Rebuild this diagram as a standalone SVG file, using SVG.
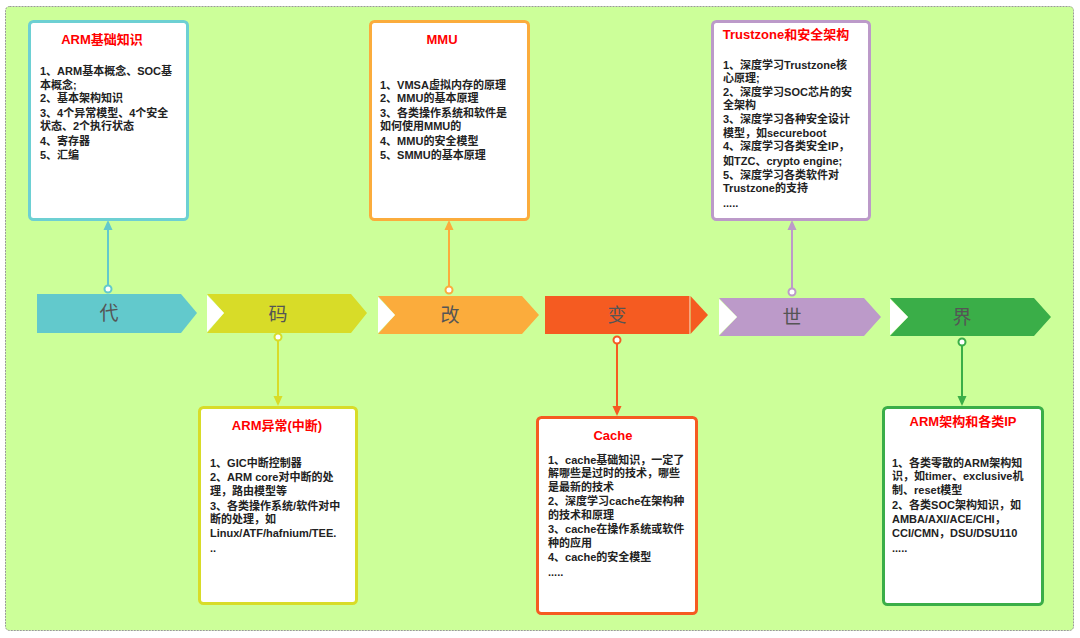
<svg xmlns="http://www.w3.org/2000/svg" width="1080" height="638" viewBox="0 0 1080 638">
<style>
.box{fill:#fff;stroke-width:3}
.title{font-family:"Liberation Sans","Noto Sans CJK SC",sans-serif;font-size:13px;font-weight:bold;fill:#ff0000;text-anchor:middle}
.body{font-family:"Liberation Sans","Noto Sans CJK SC",sans-serif;font-size:11px;font-weight:bold;fill:#222}
.chev{font-family:"Noto Sans CJK SC",sans-serif;font-size:19px;fill:#555;text-anchor:middle}
.ln{stroke-width:2;fill:none}
.dot{fill:#fff;stroke-width:2}
</style>
<rect x="5.5" y="6.5" width="1068" height="624" rx="4" fill="#ccff99" stroke="#999" stroke-width="1" stroke-dasharray="2,1"/>

<g id="connectors">
  <line class="ln" x1="108" y1="286" x2="108" y2="228" stroke="#62c9cc"/>
  <polygon points="108,220 103.5,230 112.5,230" fill="#62c9cc"/>
  <circle class="dot" cx="108" cy="289" r="3.5" stroke="#62c9cc"/>

  <line class="ln" x1="278" y1="341" x2="278" y2="398" stroke="#d8dc28"/>
  <polygon points="278,406 273.5,396 282.5,396" fill="#d8dc28"/>
  <circle class="dot" cx="278" cy="337" r="3.5" stroke="#d8dc28"/>

  <line class="ln" x1="449" y1="287" x2="449" y2="228" stroke="#fbac3c"/>
  <polygon points="449,220 444.5,230 453.5,230" fill="#fbac3c"/>
  <circle class="dot" cx="449" cy="290" r="3.5" stroke="#fbac3c"/>

  <line class="ln" x1="617" y1="344" x2="617" y2="408" stroke="#f55b21"/>
  <polygon points="617,416 612.5,406 621.5,406" fill="#f55b21"/>
  <circle class="dot" cx="617" cy="340" r="3.5" stroke="#f55b21"/>

  <line class="ln" x1="792" y1="289" x2="792" y2="228" stroke="#bc9ac9"/>
  <polygon points="792,220 787.5,230 796.5,230" fill="#bc9ac9"/>
  <circle class="dot" cx="792" cy="292" r="3.5" stroke="#bc9ac9"/>

  <line class="ln" x1="962" y1="346" x2="962" y2="398" stroke="#3aae48"/>
  <polygon points="962,406 957.5,396 966.5,396" fill="#3aae48"/>
  <circle class="dot" cx="962" cy="342" r="3.5" stroke="#3aae48"/>
</g>

<g id="chev1">
  <polygon points="37,294 181,294 197,313 181,333 37,333" fill="#62c9cc"/>
  <text class="chev" x="109" y="320">代</text>
</g>
<g id="chev2">
  <polygon points="207,294 351,294 367,313 351,333 207,333 224,313" fill="#d8dc28"/>
  <polygon points="207,295 224,313 207,332" fill="#fff"/>
  <text class="chev" x="278" y="321">码</text>
</g>
<g id="chev3">
  <polygon points="378,296 522,296 539,315 522,334 378,334 395,315" fill="#fbac3c"/>
  <polygon points="378,297 395,315 378,333" fill="#fff"/>
  <text class="chev" x="450" y="322">改</text>
</g>
<g id="chev4">
  <rect x="545" y="296" width="144" height="38" fill="#f55b21"/>
  <line x1="689.5" y1="296" x2="689.5" y2="334" stroke="#f9a37e" stroke-width="1"/>
  <polygon points="690.5,296 708,315 690.5,334" fill="#f55b21"/>
  <text class="chev" x="617" y="322">变</text>
</g>
<g id="chev5">
  <polygon points="719,298 864,298 881,317 864,336 719,336 737,317" fill="#bc9ac9"/>
  <polygon points="719,299 737,317 719,335" fill="#fff"/>
  <text class="chev" x="792" y="324">世</text>
</g>
<g id="chev6">
  <polygon points="890,298 1034,298 1051,317 1034,336 890,336 908,317" fill="#3aae48"/>
  <polygon points="890,299 908,317 890,335" fill="#fff"/>
  <text class="chev" x="962" y="324">界</text>
</g>

<g id="box1">
  <rect class="box" x="29.5" y="21.5" width="158" height="198" rx="4" stroke="#6dd0d3"/>
  <text class="title" x="102" y="44">ARM基础知识</text>
  <text class="body" x="40" y="75">1、ARM基本概念、SOC基</text>
  <text class="body" x="40" y="89">本概念;</text>
  <text class="body" x="40" y="102">2、基本架构知识</text>
  <text class="body" x="40" y="117">3、4个异常模型、4个安全</text>
  <text class="body" x="40" y="130">状态、2个执行状态</text>
  <text class="body" x="40" y="145">4、寄存器</text>
  <text class="body" x="40" y="159">5、汇编</text>
</g>

<g id="box2">
  <rect class="box" x="370.5" y="21.5" width="158" height="198" rx="4" stroke="#fbac3c"/>
  <text class="title" x="442" y="44">MMU</text>
  <text class="body" x="380" y="89">1、VMSA虚拟内存的原理</text>
  <text class="body" x="380" y="102">2、MMU的基本原理</text>
  <text class="body" x="380" y="117">3、各类操作系统和软件是</text>
  <text class="body" x="380" y="130">如何使用MMU的</text>
  <text class="body" x="380" y="145">4、MMU的安全模型</text>
  <text class="body" x="380" y="159">5、SMMU的基本原理</text>
</g>

<g id="box3">
  <rect class="box" x="712.5" y="21.5" width="157" height="198" rx="4" stroke="#bc9ac9"/>
  <text class="title" x="786" y="39">Trustzone和安全架构</text>
  <text class="body" x="723" y="69">1、深度学习Trustzone核</text>
  <text class="body" x="723" y="82">心原理;</text>
  <text class="body" x="723" y="96">2、深度学习SOC芯片的安</text>
  <text class="body" x="723" y="109">全架构</text>
  <text class="body" x="723" y="123">3、深度学习各种安全设计</text>
  <text class="body" x="723" y="137">模型，如secureboot</text>
  <text class="body" x="723" y="150">4、深度学习各类安全IP，</text>
  <text class="body" x="723" y="165">如TZC、crypto engine;</text>
  <text class="body" x="723" y="179">5、深度学习各类软件对</text>
  <text class="body" x="723" y="192">Trustzone的支持</text>
  <text class="body" x="723" y="207">.....</text>
</g>

<g id="box4">
  <rect class="box" x="199.5" y="407.5" width="157" height="196" rx="4" stroke="#d8dc28"/>
  <text class="title" x="277" y="430">ARM异常(中断)</text>
  <text class="body" x="210" y="467">1、GIC中断控制器</text>
  <text class="body" x="210" y="481">2、ARM core对中断的处</text>
  <text class="body" x="210" y="495">理，路由模型等</text>
  <text class="body" x="210" y="510">3、各类操作系统/软件对中</text>
  <text class="body" x="210" y="523">断的处理，如</text>
  <text class="body" x="210" y="537">Linux/ATF/hafnium/TEE.</text>
  <text class="body" x="210" y="552">..</text>
</g>

<g id="box5">
  <rect class="box" x="537.5" y="417.5" width="159" height="196" rx="4" stroke="#f55b21"/>
  <text class="title" x="613" y="440">Cache</text>
  <text class="body" x="548" y="464">1、cache基础知识，一定了</text>
  <text class="body" x="548" y="477">解哪些是过时的技术，哪些</text>
  <text class="body" x="548" y="491">是最新的技术</text>
  <text class="body" x="548" y="505">2、深度学习cache在架构种</text>
  <text class="body" x="548" y="519">的技术和原理</text>
  <text class="body" x="548" y="533">3、cache在操作系统或软件</text>
  <text class="body" x="548" y="547">种的应用</text>
  <text class="body" x="548" y="561">4、cache的安全模型</text>
  <text class="body" x="548" y="576">.....</text>
</g>

<g id="box6">
  <rect class="box" x="883.5" y="407.5" width="159" height="197" rx="4" stroke="#3aae48"/>
  <text class="title" x="963" y="426">ARM架构和各类IP</text>
  <text class="body" x="892" y="467">1、各类零散的ARM架构知</text>
  <text class="body" x="892" y="480">识，如timer、exclusive机</text>
  <text class="body" x="892" y="494">制、reset模型</text>
  <text class="body" x="892" y="509">2、各类SOC架构知识，如</text>
  <text class="body" x="892" y="523">AMBA/AXI/ACE/CHI，</text>
  <text class="body" x="892" y="537">CCI/CMN，DSU/DSU110</text>
  <text class="body" x="892" y="552">.....</text>
</g>
</svg>
